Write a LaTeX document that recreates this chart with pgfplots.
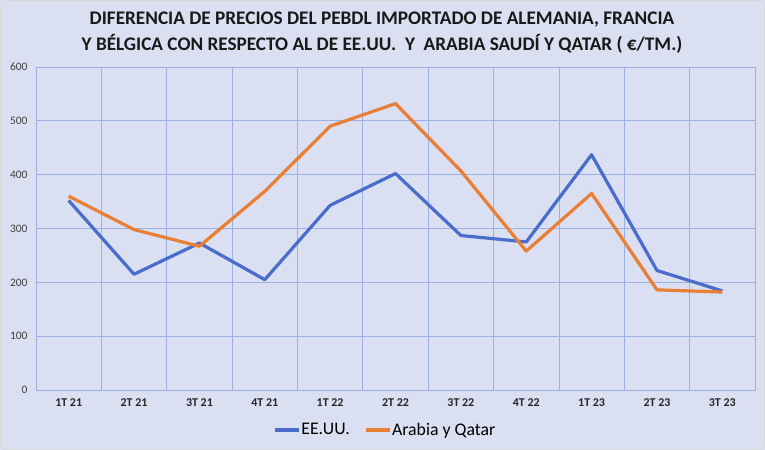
\documentclass[border=0pt]{standalone}
\usepackage{pgfplots}
\pgfplotsset{compat=1.18}
\usepackage{fontspec}
\setmainfont{Carlito}
\definecolor{bgc}{HTML}{DAE0F2}
\definecolor{gridc}{HTML}{9DB0E4}
\definecolor{usblue}{HTML}{4A6CCB}
\definecolor{arorange}{HTML}{E97E35}
\definecolor{txt}{HTML}{404040}
\begin{document}
\begin{tikzpicture}[x=1bp,y=1bp]
\fill[bgc] (0,0) rectangle (765,450);
\draw[color=black!15, line width=0.6bp, rounded corners=4bp] (0.5,0.5) rectangle (764.5,449.5);
\node[font=\fontsize{19.3}{26}\selectfont\bfseries, align=center, text=black!90] at (382,417) {DIFERENCIA DE PRECIOS DEL PEBDL IMPORTADO DE ALEMANIA, FRANCIA\\ Y BÉLGICA CON RESPECTO AL DE EE.UU. \ Y \ ARABIA SAUDÍ Y QATAR ( €/TM.)};
\begin{axis}[
  at={(36bp,60bp)}, anchor=south west,
  scale only axis, width=719bp, height=323bp,
  xmin=-0.5, xmax=10.5, ymin=0, ymax=600,
  xtick={0,...,10},
  xticklabels={1T 21,2T 21,3T 21,4T 21,1T 22,2T 22,3T 22,4T 22,1T 23,2T 23,3T 23},
  minor xtick={0.5,1.5,...,9.5},
  xminorgrids, ymajorgrids,
  ytick={0,100,...,600},
  grid style={gridc, line width=0.7bp},
  minor grid style={gridc, line width=0.7bp},
  axis line style={gridc, line width=0.8bp},
  major tick length=0, minor tick length=0,
  tick style={draw=none},
  /pgf/number format/assume math mode=true,
  yticklabel style={font=\fontsize{11.5}{12}\selectfont, text=txt, xshift=-5bp},
  xticklabel style={font=\fontsize{12}{12}\selectfont\bfseries, text=black!85, yshift=-5bp},
  legend style={at={(0.485,-0.124)}, anchor=center, draw=none, fill=none,
    legend columns=2, font=\fontsize{17.8}{20}\selectfont,
    nodes={inner xsep=0.5bp, inner ysep=1bp},
    /tikz/every even column/.append style={column sep=14bp},
    legend cell align=left},
  legend image code/.code={\draw[#1, line width=3.2bp] (0bp,0bp) -- (24bp,0bp);},
  every axis plot/.append style={line width=3.2bp, line join=round},
  clip=false,
]
\addplot[usblue, mark=none] coordinates {
(0,352) (1,215) (2,273) (3,205) (4,343) (5,402) (6,287) (7,275) (8,437) (9,222) (10,184)};
\addlegendentry{EE.UU.}
\addplot[arorange, mark=none] coordinates {
(0,360) (1,298) (2,267) (3,369) (4,490) (5,532) (6,407) (7,258) (8,365) (9,186) (10,182)};
\addlegendentry{Arabia y Qatar}
\end{axis}
\end{tikzpicture}
\end{document}
